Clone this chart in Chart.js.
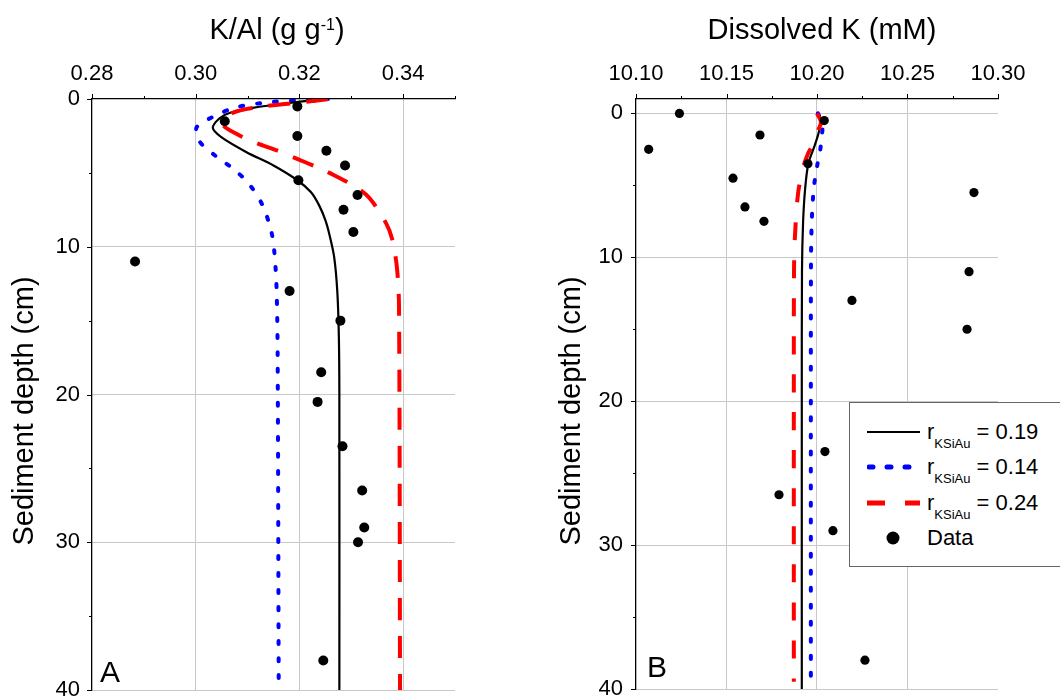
<!DOCTYPE html>
<html>
<head>
<meta charset="utf-8">
<script src="https://cdn.jsdelivr.net/npm/chart.js@4.4.1/dist/chart.umd.min.js"></script>
<style>
  body { margin: 0; background: #fff; font-family: "Liberation Sans", Arial, sans-serif; }
  #wrap { position: relative; width: 1060px; height: 697px; overflow: hidden; }
  canvas { position: absolute; top: 0; }
  #chartA { left: 0; }
  #chartB { left: 530px; }
  .title { position: absolute; top: 13px; font-size: 29px; line-height: 32px; color: #000; white-space: nowrap; transform: translateX(-50%); }
  .title sup { font-size: 16px; line-height: 0; vertical-align: 9px; }
  #legend { position: absolute; left: 849px; top: 402px; width: 210px; height: 163px; border: 1px solid #666; background: #fff; }
  .row { position: absolute; left: 0; width: 208px; height: 30px; }
  .row svg { position: absolute; left: 17px; top: 0; }
  .lab { position: absolute; left: 77px; top: 0; font-size: 22px; line-height: 30px; white-space: nowrap; color: #000; }
  .lab sub { font-size: 13px; line-height: 0; vertical-align: -9px; }
</style>
</head>
<body>
<div id="wrap">
  <canvas id="chartA" width="530" height="697"></canvas>
  <canvas id="chartB" width="530" height="697"></canvas>
  <div class="title" style="left:277px">K/Al (g g<sup>-1</sup>)</div>
  <div class="title" style="left:822px">Dissolved K (mM)</div>
  <div id="legend">
    <div class="row" style="top:14px">
      <svg width="60" height="30"><line x1="0" y1="15" x2="53" y2="15" stroke="#000" stroke-width="2.2"/></svg>
      <div class="lab">r<sub>KSiAu</sub> = 0.19</div>
    </div>
    <div class="row" style="top:49px">
      <svg width="60" height="30"><line x1="2" y1="15" x2="53" y2="15" stroke="#0000ff" stroke-width="5" stroke-dasharray="4 14" stroke-linecap="round"/></svg>
      <div class="lab">r<sub>KSiAu</sub> = 0.14</div>
    </div>
    <div class="row" style="top:85px">
      <svg width="60" height="30"><line x1="0" y1="15" x2="53" y2="15" stroke="#ff0000" stroke-width="5" stroke-dasharray="18 20"/></svg>
      <div class="lab">r<sub>KSiAu</sub> = 0.24</div>
    </div>
    <div class="row" style="top:120px">
      <svg width="60" height="30"><circle cx="26" cy="15" r="6.5" fill="#000"/></svg>
      <div class="lab">Data</div>
    </div>
  </div>
</div>
<script>
// axis ticks
const depthTicks = [0, 10, 20, 30, 40];
const depthMinor = [5, 15, 25, 35];
const kalTicks = [0.28, 0.30, 0.32, 0.34];
const kalMinor = [0.29, 0.31, 0.33, 0.35];
const kTicks = [10.10, 10.15, 10.20, 10.25, 10.30];
const kMinor = [10.125, 10.175, 10.225, 10.275];

// panel A: measured K/Al
const kalDataDepth = [0.5, 1.5, 2.5, 3.5, 4.5, 5.5, 6.5, 7.5, 9, 11, 13, 15, 18.5, 20.5, 23.5, 26.5, 29, 30, 38];
const kalData = [0.3196, 0.3056, 0.3196, 0.3252, 0.3288, 0.3198, 0.3312, 0.3285, 0.3304, 0.2883, 0.3181, 0.3279, 0.3242, 0.3235, 0.3283, 0.3321, 0.3325, 0.3313, 0.3246];

// panel A: model curves (r = 0.19, 0.14, 0.24)
const kalDepth19 = [0, 0.27, 0.6, 0.95, 1.3, 1.96, 2.6, 3.6, 4.5, 5.5, 6.3, 7.2, 8.2, 9.2, 10.7, 13, 16, 20, 40];
const kal19 = [0.3255, 0.3181, 0.3110, 0.3065, 0.3046, 0.3033, 0.3050, 0.3098, 0.3150, 0.3196, 0.3222, 0.3238, 0.3250, 0.3258, 0.3267, 0.3273, 0.3276, 0.3277, 0.3277];
const kalDepth14 = [0, 0.2, 0.55, 1.1, 1.9, 2.9, 3.9, 4.8, 5.8, 7.2, 9.0, 10.5, 12.9, 17.4, 39.2];
const kal14 = [0.3255, 0.3148, 0.3079, 0.3040, 0.3002, 0.3008, 0.3040, 0.3075, 0.3104, 0.3129, 0.3146, 0.3152, 0.3156, 0.3158, 0.3160];
const kalDepth24 = [0, 0.14, 0.6, 0.95, 1.7, 2.4, 3.0, 3.5, 4.0, 4.6, 5.0, 5.9, 6.7, 8.4, 9.5, 11.4, 14, 40];
const kal24 = [0.3255, 0.3225, 0.3110, 0.3071, 0.3052, 0.3081, 0.3118, 0.3158, 0.3192, 0.3233, 0.3258, 0.3306, 0.3335, 0.3367, 0.3379, 0.3388, 0.3392, 0.3394];

// panel B: measured dissolved K
const kDataDepth = [0, 0.5, 1.5, 2.5, 3.5, 4.5, 5.5, 6.5, 7.5, 11, 13, 15, 23.5, 26.5, 29, 38];
const kData = [10.124, 10.204, 10.1685, 10.107, 10.195, 10.1536, 10.2867, 10.1602, 10.1707, 10.284, 10.2193, 10.2829, 10.2044, 10.179, 10.2088, 10.2265];

// panel B: model curves
const kDepth19 = [0, 0.5, 1.2, 2.2, 3.5, 5.3, 7.6, 11, 20, 40];
const k19 = [10.2005, 10.2017, 10.2012, 10.1988, 10.1952, 10.1934, 10.1923, 10.1917, 10.1916, 10.1916];
const kDepth14 = [0, 0.7, 1.4, 2.6, 3.7, 5.1, 7.2, 10, 20, 39.4];
const k14 = [10.2005, 10.2030, 10.2028, 10.2017, 10.2000, 10.1983, 10.1972, 10.1967, 10.1966, 10.1966];
const kDepth24 = [0, 0.6, 1.2, 2.0, 2.8, 3.8, 5.6, 8.6, 11, 20, 39.5];
const k24 = [10.2000, 10.2022, 10.2006, 10.1985, 10.1950, 10.1923, 10.1895, 10.1878, 10.1873, 10.1872, 10.1872];

const FONT = '"Liberation Sans", Arial, sans-serif';
Chart.defaults.font.family = FONT;
Chart.defaults.color = '#000';

function toPoints(values, depths) {
    let pts = [];
    for (let i = 0; i < values.length; i++) {
        pts.push({ x: values[i], y: depths[i] });
    }
    return pts;
}

function curve(values, depths, color, width, dash, cap) {
    return {
        data: toPoints(values, depths),
        showLine: true,
        borderColor: color,
        borderWidth: width,
        borderDash: dash,
        borderCapStyle: cap,
        pointRadius: 0,
        tension: 0.3,
        fill: false
    };
}

function dots(values, depths, r) {
    return {
        data: toPoints(values, depths),
        showLine: false,
        pointRadius: r,
        pointBackgroundColor: '#000',
        pointBorderWidth: 0
    };
}

// tick marks, y title and panel letter
const panelDecor = {
    id: 'panelDecor',
    afterDraw(chart, args, o) {
        let ctx = chart.ctx;
        let a = chart.chartArea;
        let xs = chart.scales.x;
        let ys = chart.scales.y;
        ctx.save();
        ctx.strokeStyle = '#000';
        ctx.lineWidth = 1;
        ctx.beginPath();
        o.xMajor.forEach(v => {
            let px = Math.round(xs.getPixelForValue(v)) + 0.5;
            ctx.moveTo(px, a.top); ctx.lineTo(px, a.top - 5);
        });
        o.xMinor.forEach(v => {
            let px = Math.round(xs.getPixelForValue(v)) + 0.5;
            ctx.moveTo(px, a.top); ctx.lineTo(px, a.top - 3);
        });
        o.yMajor.forEach(v => {
            let py = Math.round(ys.getPixelForValue(v)) + 0.5;
            ctx.moveTo(a.left, py); ctx.lineTo(a.left - 5, py);
        });
        o.yMinor.forEach(v => {
            let py = Math.round(ys.getPixelForValue(v)) + 0.5;
            ctx.moveTo(a.left, py); ctx.lineTo(a.left - 3, py);
        });
        ctx.stroke();

        ctx.fillStyle = '#000';
        ctx.font = '29px ' + FONT;
        ctx.textAlign = 'center';
        ctx.textBaseline = 'alphabetic';
        ctx.translate(o.titleX, o.titleY);
        ctx.rotate(-Math.PI / 2);
        ctx.fillText('Sediment depth (cm)', 0, 0);
        ctx.restore();

        ctx.save();
        ctx.fillStyle = '#000';
        ctx.font = '30px ' + FONT;
        ctx.textAlign = 'left';
        ctx.textBaseline = 'alphabetic';
        ctx.fillText(o.letter, o.letterX, o.letterY);
        ctx.restore();
    }
};

function makeOptions(p) {
    return {
        responsive: false,
        animation: false,
        events: [],
        layout: { padding: { left: 0, top: 0, right: p.padRight, bottom: p.padBottom } },
        plugins: {
            legend: { display: false },
            tooltip: { enabled: false },
            panelDecor: p.decor
        },
        scales: {
            x: {
                type: 'linear',
                position: 'top',
                min: p.xMin,
                max: p.xMax,
                afterBuildTicks: s => { s.ticks = p.xTicks.map(v => ({ value: v })); },
                afterFit: s => { s.height = 99; s.paddingLeft = 0; s.paddingRight = 0; },
                ticks: {
                    autoSkip: false,
                    maxRotation: 0,
                    padding: 12,
                    font: { size: 22 },
                    color: '#000',
                    callback: v => Number(v).toFixed(2)
                },
                grid: {
                    drawTicks: false,
                    lineWidth: 1,
                    color: c => (c.tick && (Math.abs(c.tick.value - p.xMin) < 1e-9 || Math.abs(c.tick.value - p.xMax) < 1e-9)) ? 'rgba(0,0,0,0)' : '#c8c8c8'
                },
                border: { display: true, color: '#000', width: 1.3 }
            },
            y: {
                type: 'linear',
                reverse: true,
                min: p.yMin,
                max: 40,
                afterBuildTicks: s => { s.ticks = depthTicks.map(v => ({ value: v })); },
                afterFit: s => { s.width = p.yWidth; s.paddingTop = 0; s.paddingBottom = 0; },
                ticks: {
                    autoSkip: false,
                    padding: p.yPad,
                    font: { size: 22 },
                    color: '#000'
                },
                grid: {
                    drawTicks: false,
                    lineWidth: 1,
                    color: c => (c.tick && c.tick.value === p.yMin) ? 'rgba(0,0,0,0)' : '#c8c8c8'
                },
                border: { display: true, color: '#000', width: 1.3 }
            }
        }
    };
}

new Chart(document.getElementById('chartA'), {
    type: 'scatter',
    data: {
        datasets: [
            dots(kalData, kalDataDepth, 5),
            curve(kal24, kalDepth24, '#ff0000', 4, [22, 16], 'butt'),
            curve(kal19, kalDepth19, '#000000', 2.2, [], 'butt'),
            curve(kal14, kalDepth14, '#0000ff', 4, [3, 14], 'round')
        ]
    },
    options: makeOptions({
        xMin: 0.28, xMax: 0.35, xTicks: kalTicks,
        yMin: 0, yWidth: 92, yPad: 12,
        padRight: 75, padBottom: 7,
        decor: {
            xMajor: kalTicks, xMinor: kalMinor, yMajor: depthTicks, yMinor: depthMinor,
            titleX: 33, titleY: 411, letter: 'A', letterX: 100, letterY: 682
        }
    }),
    plugins: [panelDecor]
});

new Chart(document.getElementById('chartB'), {
    type: 'scatter',
    data: {
        datasets: [
            dots(kData, kDataDepth, 4.6),
            curve(k24, kDepth24, '#ff0000', 4, [18, 20], 'butt'),
            curve(k19, kDepth19, '#000000', 2.2, [], 'butt'),
            curve(k14, kDepth14, '#0000ff', 4, [3, 14], 'round')
        ]
    },
    options: makeOptions({
        xMin: 10.10, xMax: 10.30, xTicks: kTicks,
        yMin: -1, yWidth: 106, yPad: 13,
        padRight: 62, padBottom: 8,
        decor: {
            xMajor: kTicks, xMinor: kMinor, yMajor: depthTicks, yMinor: depthMinor,
            titleX: 50, titleY: 411, letter: 'B', letterX: 117, letterY: 677
        }
    }),
    plugins: [panelDecor]
});
</script>
</body>
</html>
